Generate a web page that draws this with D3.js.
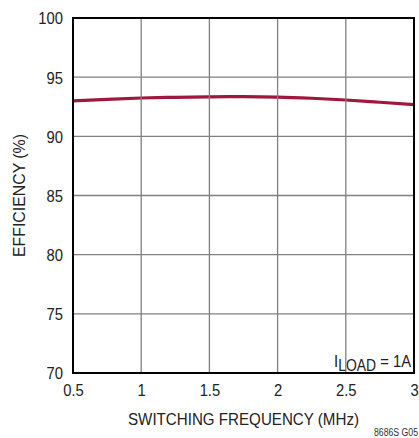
<!DOCTYPE html>
<html>
<head>
<meta charset="utf-8">
<script src="https://cdn.jsdelivr.net/npm/d3@7"></script>
<style>
  html, body { margin: 0; padding: 0; background: #fff; }
  svg { display: block; font-family: "Liberation Sans", Arial, sans-serif; }
</style>
</head>
<body>
<svg id="chart" width="419" height="438"></svg>
<script>
// Switching frequency (MHz) vs efficiency (%)
const freqMHz = [0.5, 0.75, 1.0, 1.25, 1.5, 1.75, 2.0, 2.25, 2.5, 2.75, 3.0];
const efficiency = [93.0, 93.13, 93.24, 93.3, 93.34, 93.35, 93.32, 93.22, 93.07, 92.88, 92.68];
const xTicks = [0.5, 1, 1.5, 2, 2.5, 3];
const yTicks = [70, 75, 80, 85, 90, 95, 100];
const xTickLabels = ["0.5", "1", "1.5", "2", "2.5", "3"];

const svg = d3.select("#chart");
const m = { left: 73, top: 18, right: 414, bottom: 373 };
const SX = 0.87; // horizontal squeeze for the condensed lettering

const x = d3.scaleLinear().domain([0.5, 3]).range([m.left, m.right]);
const y = d3.scaleLinear().domain([70, 100]).range([m.bottom, m.top]);

// efficiency curve (drawn beneath the grid)
const line = d3.line().x((d, i) => x(freqMHz[i])).y(d => y(d)).curve(d3.curveMonotoneX);
svg.append("path")
  .datum(efficiency)
  .attr("d", line)
  .attr("fill", "none")
  .attr("stroke", "#a0173d")
  .attr("stroke-width", 3.2);

// grid
const grid = svg.append("g").attr("stroke", "#808080").attr("stroke-width", 1.3);
grid.selectAll("line.v").data(xTicks.slice(1, -1)).enter().append("line")
  .attr("x1", d => x(d)).attr("x2", d => x(d))
  .attr("y1", m.top).attr("y2", m.bottom);
grid.selectAll("line.h").data(yTicks.slice(1, -1)).enter().append("line")
  .attr("y1", d => y(d)).attr("y2", d => y(d))
  .attr("x1", m.left).attr("x2", m.right);

// frame
svg.append("rect")
  .attr("x", m.left).attr("y", m.top)
  .attr("width", m.right - m.left).attr("height", m.bottom - m.top)
  .attr("fill", "none").attr("stroke", "#000").attr("stroke-width", 2);

// axes (labels only; frame drawn above)
const yAxis = d3.axisLeft(y).tickValues(yTicks).tickSize(0).tickPadding(10);
const gy = svg.append("g").attr("transform", `translate(${m.left},0)`).call(yAxis);
gy.select(".domain").remove();
gy.selectAll("text")
  .attr("font-size", 17).attr("fill", "#222").attr("font-family", null)
  .attr("dy", "0.35em")
  .attr("x", -10 / SX)
  .attr("transform", `scale(${SX},1)`);

const xAxis = d3.axisBottom(x).tickValues(xTicks).tickSize(0).tickPadding(11)
  .tickFormat((d, i) => xTickLabels[i]);
const gx = svg.append("g").attr("transform", `translate(0,${m.bottom})`).call(xAxis);
gx.select(".domain").remove();
gx.selectAll("text")
  .attr("font-size", 17).attr("fill", "#222").attr("font-family", null)
  .attr("transform", `scale(${SX},1)`);

// axis titles
svg.append("text")
  .attr("x", 243.5).attr("y", 425)
  .attr("text-anchor", "middle").attr("font-size", 17).attr("fill", "#222")
  .attr("textLength", 231).attr("lengthAdjust", "spacingAndGlyphs")
  .text("SWITCHING FREQUENCY (MHz)");

svg.append("text")
  .attr("transform", `translate(25,${(m.top + m.bottom) / 2}) rotate(-90)`)
  .attr("text-anchor", "middle").attr("font-size", 17).attr("fill", "#222")
  .attr("textLength", 123).attr("lengthAdjust", "spacingAndGlyphs")
  .text("EFFICIENCY (%)");

// load annotation
const ann = svg.append("text")
  .attr("transform", `translate(411,367) scale(${SX},1)`)
  .attr("text-anchor", "end").attr("font-size", 17).attr("fill", "#222");
ann.append("tspan").text("I");
ann.append("tspan").attr("dy", 4).attr("font-size", 16).text("LOAD");
ann.append("tspan").attr("dy", -4).text(" = 1A");

// figure id
svg.append("text")
  .attr("transform", `translate(418,436) scale(${SX},1)`)
  .attr("text-anchor", "end").attr("font-size", 10).attr("fill", "#333")
  .text("8686S G05");
</script>
</body>
</html>
